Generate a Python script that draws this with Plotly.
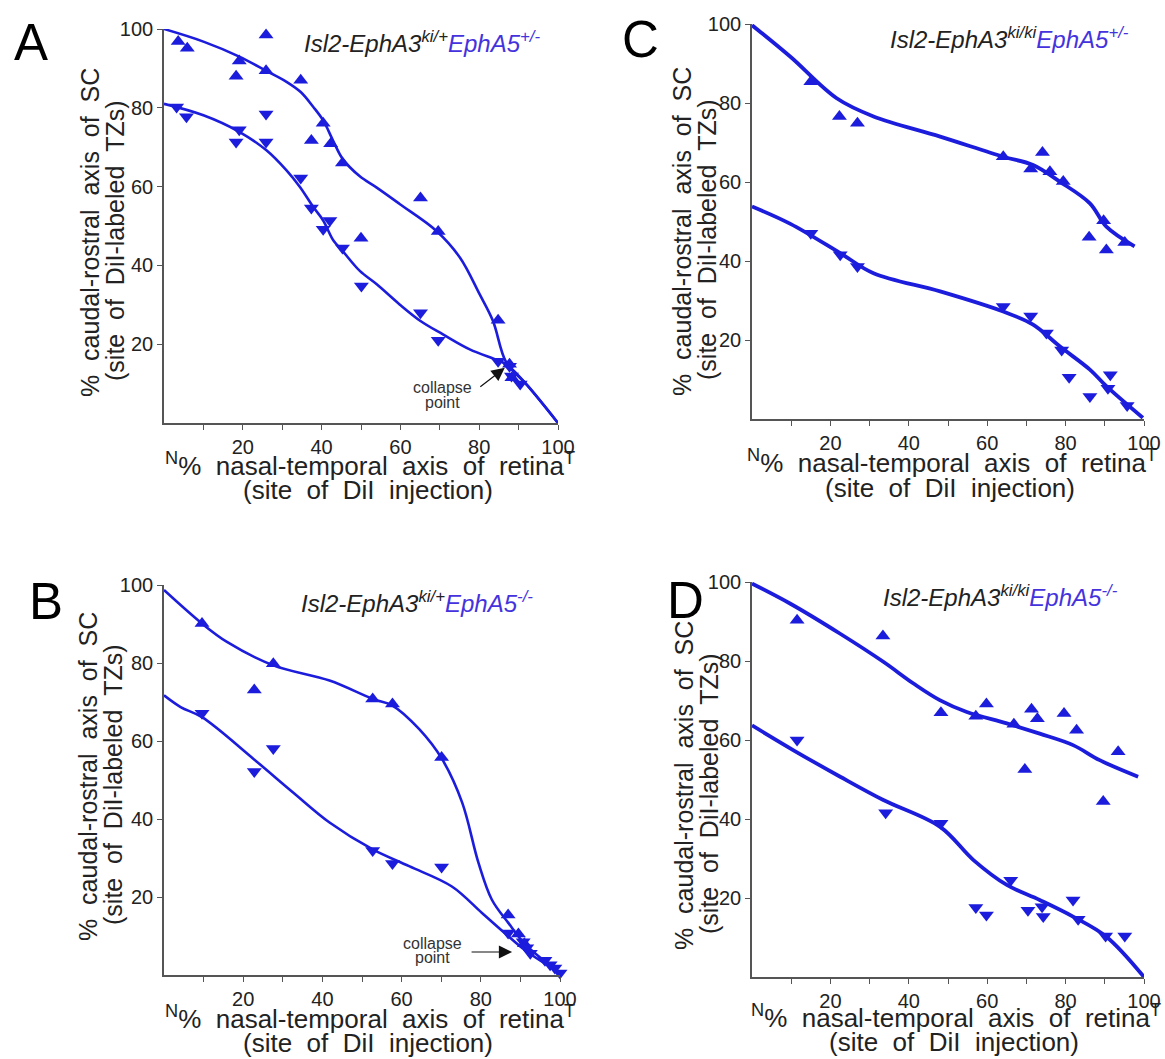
import plotly.graph_objects as go

# ---------------- DATA ----------------
# Panel A  (Isl2-EphA3 ki/+ ; EphA5 +/-)
A_up_x = [3.6, 5.9, 25.9, 19.1, 18.3, 25.9, 34.7, 40.4, 37.4, 42.3, 45.3, 50.0, 65.1, 69.6, 84.8, 87.7, 88.3]
A_up_y = [96.8, 95.1, 98.5, 91.9, 88.0, 89.4, 87.0, 76.1, 71.7, 70.9, 66.0, 46.9, 57.1, 48.6, 26.1, 14.9, 11.5]
A_dn_x = [3.2, 5.7, 19.1, 18.3, 25.9, 25.9, 34.7, 37.4, 42.1, 40.4, 45.3, 50.1, 65.1, 69.6, 84.8, 87.7, 88.2, 90.4]
A_dn_y = [80.2, 77.7, 74.4, 71.3, 78.4, 71.3, 62.2, 54.6, 51.4, 49.2, 44.4, 34.8, 28.0, 21.0, 15.7, 14.4, 11.9, 9.9]
A_fit_up_x = [0, 10, 19.1, 25.9, 31.1, 34.7, 37.9, 40.4, 42.9, 45.3, 49.7, 53.9, 59.8, 69.1, 75.1, 80.1, 83.5, 86.9, 92.0, 100]
A_fit_up_y = [100, 96.8, 93.0, 89.4, 86.6, 84.0, 80.2, 76.8, 71.7, 67.1, 62.6, 59.8, 55.6, 48.8, 42.0, 32.7, 25.9, 15.3, 9.8, 0]
A_fit_dn_x = [0, 10, 19.1, 26.0, 31.1, 34.5, 37.9, 40.4, 43.0, 45.3, 49.7, 54.0, 59.8, 65.1, 70.8, 77.6, 84.8, 86.9, 92.0, 100]
A_fit_dn_y = [81.0, 78.1, 73.9, 69.2, 64.1, 59.9, 54.8, 51.4, 46.3, 43.7, 38.6, 35.2, 30.1, 25.9, 22.5, 18.7, 15.9, 14.9, 9.8, 0]

# Panel B  (Isl2-EphA3 ki/+ ; EphA5 -/-)
B_up_x = [9.6, 22.8, 27.6, 52.7, 57.7, 70.1, 86.9, 89.5, 91.0]
B_up_y = [90.1, 73.1, 79.8, 70.8, 69.5, 55.8, 15.4, 10.5, 8.0]
B_dn_x = [9.6, 22.8, 27.6, 52.7, 57.7, 70.1, 86.9, 90.7, 91.6, 92.5, 96.2, 97.5, 98.7, 100.0]
B_dn_y = [67.1, 52.2, 58.1, 31.9, 28.6, 27.7, 10.8, 8.5, 7.0, 5.6, 3.8, 2.6, 1.8, 0.5]
B_fit_up_x = [0, 9.6, 15.9, 27.6, 41.8, 52.7, 57.7, 64.4, 70.2, 75.3, 79.4, 82.8, 87.0, 91.1, 100]
B_fit_up_y = [98.7, 90.1, 85.4, 79.4, 75.5, 70.8, 69.1, 63.1, 55.4, 44.2, 28.8, 19.3, 13.3, 8.0, 0.5]
B_fit_dn_x = [0, 4.2, 9.6, 22.6, 32.6, 41.8, 52.7, 61.9, 72.7, 80.3, 86.1, 91.1, 100]
B_fit_dn_y = [71.7, 68.7, 66.1, 55.4, 46.8, 39.1, 32.2, 27.9, 22.7, 15.9, 10.7, 6.4, 0.5]

# Panel C  (Isl2-EphA3 ki/ki ; EphA5 +/-)
C_up_x = [15.0, 22.3, 26.9, 64.1, 74.1, 71.1, 76.0, 79.4, 86.0, 89.7, 90.4, 95.1]
C_up_y = [85.4, 76.6, 74.9, 66.4, 67.5, 63.3, 62.6, 60.1, 46.0, 50.2, 42.8, 44.7]
C_dn_x = [15.0, 22.5, 26.9, 64.1, 71.1, 75.1, 79.0, 80.9, 86.2, 91.4, 90.8, 95.7]
C_dn_y = [47.0, 41.6, 38.6, 28.5, 26.1, 21.8, 17.5, 10.6, 5.7, 11.2, 7.8, 3.4]
C_fit_up_x = [0, 9.8, 21.6, 31.0, 48.0, 64.1, 71.7, 78.5, 86.2, 90.4, 97.6]
C_fit_up_y = [99.7, 91.7, 81.2, 76.6, 71.5, 66.4, 64.3, 60.1, 54.6, 48.7, 43.7]
C_fit_dn_x = [0, 9.8, 22.5, 31.0, 48.0, 64.1, 71.7, 78.5, 86.2, 90.4, 99.7]
C_fit_dn_y = [53.8, 49.4, 42.0, 36.9, 32.3, 27.2, 23.9, 18.4, 12.5, 8.3, 0.3]

# Panel D  (Isl2-EphA3 ki/ki ; EphA5 -/-)
D_up_x = [11.5, 33.4, 48.2, 57.1, 59.8, 66.8, 69.6, 71.3, 72.8, 79.6, 82.8, 89.6, 93.4]
D_up_y = [90.3, 86.3, 66.9, 66.0, 69.1, 64.0, 52.5, 67.8, 65.4, 66.7, 62.5, 44.4, 57.0]
D_dn_x = [11.5, 34.1, 48.2, 66.0, 57.1, 59.8, 70.4, 74.0, 74.3, 81.9, 83.2, 90.2, 95.1]
D_dn_y = [60.0, 41.6, 38.9, 24.5, 17.6, 15.7, 16.9, 17.8, 15.3, 19.5, 14.6, 10.4, 10.4]
D_fit_up_x = [0, 9.8, 22.5, 33.5, 41.2, 47.9, 54.8, 65.0, 73.4, 81.9, 88.7, 98.5]
D_fit_up_y = [99.6, 94.5, 86.9, 79.8, 74.3, 70.1, 67.1, 64.2, 61.6, 58.7, 54.9, 50.7]
D_fit_dn_x = [0, 10.6, 22.5, 33.5, 48.0, 56.5, 65.0, 73.4, 81.9, 90.4, 100]
D_fit_dn_y = [63.7, 57.4, 50.7, 44.8, 38.0, 29.6, 23.3, 19.5, 15.3, 10.2, 0]

tick_vals = [20, 40, 60, 80, 100]
tick_text = ["20", "40", "60", "80", "100"]
minor_tick_vals = [10, 30, 50, 70, 90]

# ---------------- STYLE ----------------
W, H = 1165, 1059
BLUE = "#1c1cdc"
TITLE_BLUE = "#4433dd"
FONT = "Liberation Sans, Arial, sans-serif"
NB = "\u00a0"
G = NB * 2  # wide word gap as in the original figure


def px_x(p):
    return p / W


def px_y(p):
    return 1 - p / H


panels = {
    # name: (xaxis id, yaxis id, x-px range, y-px range (top,bottom), line width)
    "A": ("x", "y", (164, 558), (29, 423), 2.6),
    "C": ("x2", "y2", (752, 1144), (24, 419), 3.8),
    "B": ("x3", "y3", (164, 560), (585, 975), 2.6),
    "D": ("x4", "y4", (752, 1144), (582, 977), 3.8),
}
data = {
    "A": (A_up_x, A_up_y, A_dn_x, A_dn_y, A_fit_up_x, A_fit_up_y, A_fit_dn_x, A_fit_dn_y),
    "B": (B_up_x, B_up_y, B_dn_x, B_dn_y, B_fit_up_x, B_fit_up_y, B_fit_dn_x, B_fit_dn_y),
    "C": (C_up_x, C_up_y, C_dn_x, C_dn_y, C_fit_up_x, C_fit_up_y, C_fit_dn_x, C_fit_dn_y),
    "D": (D_up_x, D_up_y, D_dn_x, D_dn_y, D_fit_up_x, D_fit_up_y, D_fit_dn_x, D_fit_dn_y),
}

fig = go.Figure()
layout = dict(
    width=W, height=H, autosize=False, margin=dict(l=0, r=0, t=0, b=0, autoexpand=False),
    paper_bgcolor="white", plot_bgcolor="white", showlegend=False,
    font=dict(family=FONT, color="#222"),
)

for name, (xa, ya, (x0, x1), (yt, yb), lw) in panels.items():
    upx, upy, dnx, dny, fux, fuy, fdx, fdy = data[name]
    for fx, fy in ((fux, fuy), (fdx, fdy)):
        fig.add_trace(go.Scatter(x=fx, y=fy, mode="lines", xaxis=xa, yaxis=ya,
                                 line=dict(color=BLUE, width=lw, shape="spline", smoothing=1.0),
                                 cliponaxis=False, hoverinfo="skip"))
    fig.add_trace(go.Scatter(x=upx, y=upy, mode="markers", xaxis=xa, yaxis=ya,
                             marker=dict(symbol="triangle-up", size=13, color=BLUE),
                             cliponaxis=False))
    fig.add_trace(go.Scatter(x=dnx, y=dny, mode="markers", xaxis=xa, yaxis=ya,
                             marker=dict(symbol="triangle-down", size=13, color=BLUE),
                             cliponaxis=False))
    xkey = "xaxis" if xa == "x" else "xaxis" + xa[1:]
    ykey = "yaxis" if ya == "y" else "yaxis" + ya[1:]
    layout[xkey] = dict(
        domain=[px_x(x0), px_x(x1)], range=[0, 100], anchor=ya, automargin=False,
        showline=True, linecolor="#555", linewidth=1.6,
        showgrid=False, zeroline=False,
        ticks="outside", ticklen=5, tickcolor="#555", tickwidth=1.3,
        tickvals=tick_vals, ticktext=tick_text,
        minor=dict(ticks="outside", tickvals=minor_tick_vals, ticklen=5, tickcolor="#555", tickwidth=1.3),
        tickfont=dict(size=20, color="#222", family=FONT),
    )
    layout[ykey] = dict(
        domain=[px_y(yb), px_y(yt)], range=[0, 100], anchor=xa, automargin=False,
        showline=True, linecolor="#555", linewidth=1.6,
        showgrid=False, zeroline=False,
        ticks="outside", ticklen=5, tickcolor="#555", tickwidth=1.3,
        tickvals=tick_vals, ticktext=tick_text,
        tickfont=dict(size=20, color="#222", family=FONT),
    )

fig.update_layout(**layout)

ytitle1 = f"%{G}caudal-rostral{G}axis{G}of{G}SC"
ytitle2 = f"(site{G}of{G}DiI-labeled{G}TZs)"
xtitle1 = f"<sup>N</sup>%{G}nasal-temporal{G}axis{G}of{G}retina<sup>T</sup>"
xtitle2 = f"(site{G}of{G}DiI{G}injection)"


def sup_title(a3, a5):
    return (f"<i>Isl2-EphA3<sup>{a3}</sup></i>"
            f"<span style='color:{TITLE_BLUE}'><i>EphA5<sup>{a5}</sup></i></span>")


def paper_text(txt, cx, cy, size, angle=0, color="#222"):
    return dict(text=txt, x=px_x(cx), y=px_y(cy), xref="paper", yref="paper",
                showarrow=False, textangle=angle, xanchor="center", yanchor="middle",
                font=dict(size=size, color=color, family=FONT))


ann = []
# panel letters
for letter, (lx, ly) in {"A": (31, 42), "C": (641, 40), "B": (46, 601), "D": (685, 600)}.items():
    ann.append(paper_text(letter, lx, ly, 51, color="#000"))
# y titles (two lines each)
for (cx, cy) in [(90, 233), (682, 232), (88, 777), (684, 786)]:
    ann.append(paper_text(ytitle1, cx, cy, 25, angle=-90))
    ann.append(paper_text(ytitle2, cx + 25, cy + 8, 25, angle=-90))
# x titles (two lines each)
for (cx, cy) in [(370, 464), (952, 462), (370, 1017), (956, 1016)]:
    ann.append(paper_text(xtitle1, cx, cy, 26))
    ann.append(paper_text(xtitle2, cx - 2, cy + 26, 26))
# panel titles
for (txt, cx, cy) in [(sup_title("ki/+", "+/-"), 422, 42), (sup_title("ki/ki", "+/-"), 1009, 38),
                      (sup_title("ki/+", "-/-"), 417, 602), (sup_title("ki/ki", "-/-"), 1000, 596)]:
    ann.append(paper_text(txt, cx, cy, 24))

# "collapse point" labels and arrows (data coordinates of their panels)
for (xr, yr, cx, cy1, cy2) in [("x", "y", 70.6, 8.9, 5.3), ("x3", "y3", 67.9, 8.0, 4.4)]:
    for txt, cy in (("collapse", cy1), ("point", cy2)):
        ann.append(dict(text=txt, x=cx, y=cy, xref=xr, yref=yr, showarrow=False,
                        xanchor="center", yanchor="middle",
                        font=dict(size=16, color="#333", family=FONT)))
ann.append(dict(text="", x=86.5, y=14.0, xref="x", yref="y", ax=-26, ay=20,
                showarrow=True, arrowhead=2, arrowsize=2.2, arrowwidth=1.2,
                arrowcolor="#111", standoff=0))
ann.append(dict(text="", x=87.9, y=5.9, xref="x3", yref="y3", ax=-42, ay=0,
                showarrow=True, arrowhead=2, arrowsize=2.2, arrowwidth=1.2,
                arrowcolor="#111", standoff=0))

fig.update_layout(annotations=ann)
fig.write_html(
    "out.html",
    config={"responsive": False, "displayModeBar": False},
    post_script="document.body.style.margin='0px';document.body.style.overflow='hidden';",
)
